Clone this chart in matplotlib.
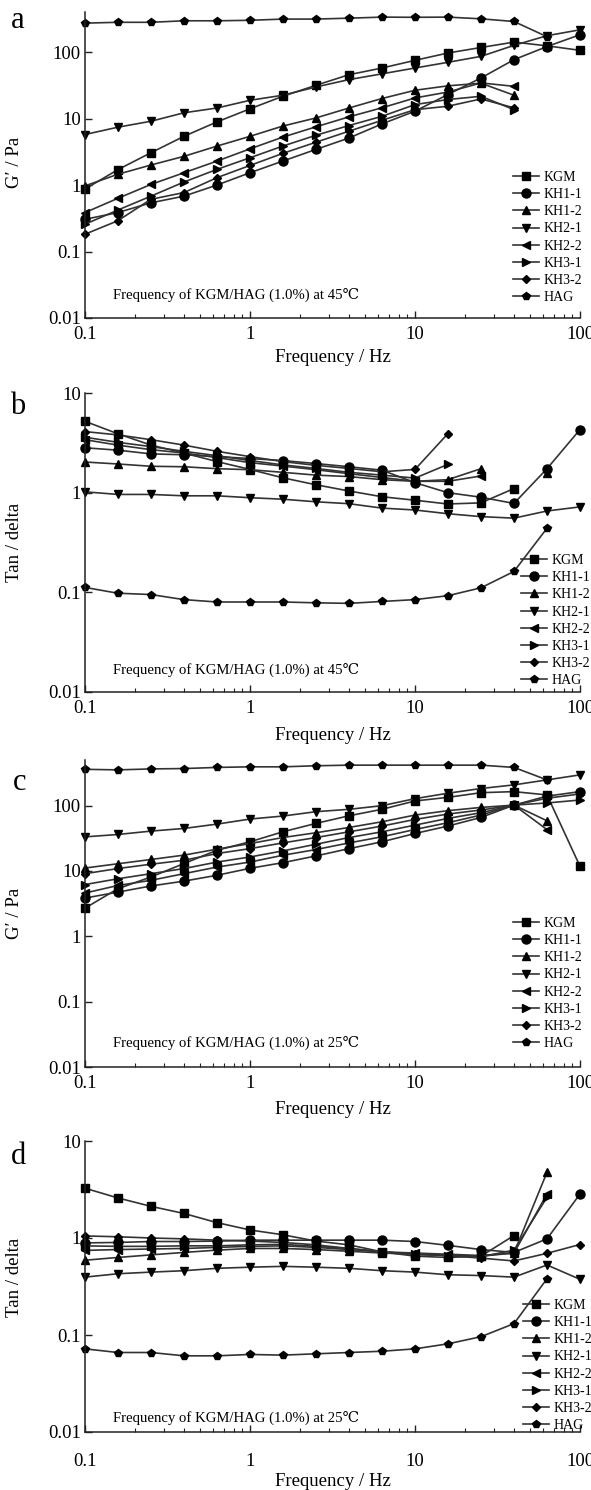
import matplotlib
matplotlib.use('Agg')
import matplotlib.pyplot as plt
import numpy as np
from matplotlib.ticker import FixedLocator, FixedFormatter, LogLocator, NullLocator, NullFormatter

plt.rcParams['font.family'] = ['Liberation Serif', 'DejaVu Serif', 'Noto Sans CJK SC']

nan = float('nan')
freq = [0.1, 0.158, 0.251, 0.398, 0.631, 1.0, 1.58, 2.51, 3.98, 6.31, 10.0, 15.8, 25.1, 39.8, 63.1, 100.0]
names = ['KGM', 'KH1-1', 'KH1-2', 'KH2-1', 'KH2-2', 'KH3-1', 'KH3-2', 'HAG']

# Panel a: G' at 45 C
a_KGM = [0.87, 1.7, 3.06, 5.4, 8.9, 14, 21.6, 31.6, 45.6, 57.5, 75, 96.6, 117, 141, 124, 106]
a_KH1_1 = [0.305, 0.385, 0.54, 0.68, 1.0, 1.53, 2.29, 3.43, 5.1, 8.3, 12.9, 22.9, 40.7, 76.7, 121, 182]
a_KH1_2 = [0.97, 1.45, 2.0, 2.7, 3.85, 5.4, 7.7, 10.2, 14.4, 20, 26.6, 31, 34, 22.4]
a_KH2_1 = [5.75, 7.4, 9.1, 12.2, 14.4, 18.8, 22.4, 29.8, 38.5, 47, 57.5, 70, 86, 126, 176, 216]
a_KH2_2 = [0.385, 0.63, 1.02, 1.53, 2.29, 3.5, 5.25, 7.5, 10.6, 14.5, 20.4, 25, 34.3, 30.5]
a_KH3_1 = [0.257, 0.42, 0.68, 1.11, 1.72, 2.57, 3.85, 5.6, 7.85, 10.8, 16.2, 19.3, 21.6, 13.6]
a_KH3_2 = [0.182, 0.29, 0.61, 0.77, 1.29, 1.97, 2.99, 4.4, 6.45, 9.4, 13.6, 15.3, 19.7, 14.5]
a_HAG = [272, 280, 280, 295, 295, 300, 313, 313, 323, 335, 333, 335, 316, 288, 170]

# Panel b: tan delta at 45 C
b_KGM = [5.2, 3.9, 3.0, 2.5, 2.05, 1.71, 1.41, 1.2, 1.04, 0.91, 0.84, 0.77, 0.79, 1.1]
b_KH1_1 = [2.82, 2.67, 2.45, 2.4, 2.3, 2.2, 2.1, 1.96, 1.82, 1.68, 1.26, 1.0, 0.9, 0.78, 1.74, 4.3]
b_KH1_2 = [2.03, 1.94, 1.84, 1.82, 1.74, 1.7, 1.6, 1.5, 1.45, 1.35, 1.3, 1.35, 1.74, nan, 1.58]
b_KH2_1 = [1.02, 0.96, 0.96, 0.93, 0.93, 0.89, 0.86, 0.81, 0.775, 0.70, 0.67, 0.615, 0.575, 0.555, 0.655, 0.72]
b_KH2_2 = [3.4, 3.0, 2.7, 2.5, 2.25, 2.0, 1.85, 1.7, 1.55, 1.42, 1.3, 1.3, 1.47]
b_KH3_1 = [3.6, 3.2, 2.9, 2.6, 2.35, 2.1, 1.9, 1.75, 1.6, 1.5, 1.4, 1.92]
b_KH3_2 = [4.1, 3.8, 3.4, 3.0, 2.6, 2.3, 2.05, 1.88, 1.75, 1.62, 1.71, 3.9]
b_HAG = [0.112, 0.098, 0.095, 0.0845, 0.080, 0.080, 0.080, 0.0785, 0.0775, 0.081, 0.0845, 0.0925, 0.111, 0.162, 0.44]

# Panel c: G' at 25 C
c_KGM = [2.7, 5.35, 8.1, 13, 20.8, 28, 39.8, 53.5, 70, 88, 118, 134, 158, 164, 146, 11.8]
c_KH1_1 = [3.85, 4.75, 5.9, 7.0, 8.6, 11, 13.4, 17, 22, 28, 37.5, 48.7, 66, 102, 140, 164]
c_KH1_2 = [11.1, 12.9, 15, 17.5, 21.6, 26.3, 32.5, 38.5, 46.4, 56.7, 71.8, 83.8, 94, 102, 58.7]
c_KH2_1 = [33.3, 36.2, 40.8, 44.8, 52.2, 62.4, 69.3, 80.9, 87.9, 100, 128, 155, 183, 208, 248, 296]
c_KH2_2 = [4.6, 6.0, 7.2, 9.1, 11.5, 13.7, 17.4, 21.3, 26.9, 33.4, 43.2, 54.8, 71.8, 102, 43]
c_KH3_1 = [6.2, 7.6, 9.1, 10.9, 13.7, 16.4, 20.3, 25.7, 32.5, 39.8, 50.4, 63.8, 78, 102, 110, 122]
c_KH3_2 = [9.1, 10.9, 12.7, 14.6, 18.5, 22, 26.9, 32.5, 39.8, 48.7, 61.6, 74.4, 85.8, 102, 130, 151]
c_HAG = [360, 353, 365, 370, 385, 393, 393, 408, 417, 417, 417, 417, 417, 385, 248]

# Panel d: tan delta at 25 C
d_KGM = [3.26, 2.59, 2.12, 1.79, 1.44, 1.21, 1.08, 0.93, 0.85, 0.72, 0.65, 0.63, 0.65, 1.06]
d_KH1_1 = [0.89, 0.9, 0.92, 0.92, 0.93, 0.95, 0.95, 0.95, 0.95, 0.95, 0.92, 0.84, 0.76, 0.71, 0.98, 2.84]
d_KH1_2 = [0.59, 0.63, 0.67, 0.71, 0.75, 0.78, 0.78, 0.76, 0.73, 0.70, 0.68, 0.66, 0.65, 0.70, 4.76]
d_KH2_1 = [0.395, 0.428, 0.445, 0.46, 0.487, 0.5, 0.51, 0.5, 0.487, 0.46, 0.445, 0.418, 0.41, 0.395, 0.527, 0.375]
d_KH2_2 = [0.745, 0.76, 0.77, 0.78, 0.8, 0.82, 0.83, 0.8, 0.76, 0.72, 0.7, 0.68, 0.66, 0.7, 2.84]
d_KH3_1 = [0.83, 0.82, 0.82, 0.83, 0.83, 0.85, 0.86, 0.82, 0.78, 0.72, 0.68, 0.66, 0.64, 0.75, 2.63]
d_KH3_2 = [1.05, 1.03, 1.0, 0.98, 0.95, 0.93, 0.9, 0.85, 0.78, 0.72, 0.68, 0.66, 0.62, 0.58, 0.695, 0.857]
d_HAG = [0.072, 0.066, 0.066, 0.061, 0.061, 0.063, 0.062, 0.064, 0.066, 0.068, 0.072, 0.081, 0.096, 0.131, 0.38]

x_ticks = [0.1, 1, 10, 100]
x_ticklabels = ['0.1', '1', '10', '100']
g_ticks = [0.01, 0.1, 1, 10, 100]
g_ticklabels = ['0.01', '0.1', '1', '10', '100']
t_ticks = [0.01, 0.1, 1, 10]
t_ticklabels = ['0.01', '0.1', '1', '10']

markers = {'KGM': 's', 'KH1-1': 'o', 'KH1-2': '^', 'KH2-1': 'v',
           'KH2-2': '<', 'KH3-1': '>', 'KH3-2': 'D', 'HAG': 'p'}
msizes = {'KGM': 5.5, 'KH1-1': 6.5, 'KH1-2': 6, 'KH2-1': 6,
          'KH2-2': 6, 'KH3-1': 6, 'KH3-2': 4.5, 'HAG': 5.5}

W, H = 591, 1490
fig = plt.figure(figsize=(W / 100, H / 100), dpi=100)

def rect(top, bottom, left=85, right=580):
    return [left / W, 1 - bottom / H, (right - left) / W, (bottom - top) / H]

panels = [
    dict(top=12, bottom=318, data=[a_KGM, a_KH1_1, a_KH1_2, a_KH2_1, a_KH2_2, a_KH3_1, a_KH3_2, a_HAG],
         ylim=(0.01, 400), yt=g_ticks, ytl=g_ticklabels, ylabel="G\u2032 / Pa", letter='a',
         letter_xy=(18, 20), note='Frequency of KGM/HAG (1.0%) at 45\u2103', note_y=295,
         leg=(513, 171), xlab_y=357, xpad=6, ylab_y=0.51),
    dict(top=393, bottom=692, data=[b_KGM, b_KH1_1, b_KH1_2, b_KH2_1, b_KH2_2, b_KH3_1, b_KH3_2, b_HAG],
         ylim=(0.01, 10), yt=t_ticks, ytl=t_ticklabels, ylabel='Tan / delta', letter='b',
         letter_xy=(18, 406), note='Frequency of KGM/HAG (1.0%) at 45\u2103', note_y=670,
         leg=(521, 554), xlab_y=735, xpad=6, ylab_y=0.5),
    dict(top=760, bottom=1067, data=[c_KGM, c_KH1_1, c_KH1_2, c_KH2_1, c_KH2_2, c_KH3_1, c_KH3_2, c_HAG],
         ylim=(0.01, 500), yt=g_ticks, ytl=g_ticklabels, ylabel="G\u2032 / Pa", letter='c',
         letter_xy=(20, 782), note='Frequency of KGM/HAG (1.0%) at 25\u2103', note_y=1043,
         leg=(513, 917), xlab_y=1109, xpad=6, ylab_y=0.5),
    dict(top=1141, bottom=1432, data=[d_KGM, d_KH1_1, d_KH1_2, d_KH2_1, d_KH2_2, d_KH3_1, d_KH3_2, d_HAG],
         ylim=(0.01, 10), yt=t_ticks, ytl=t_ticklabels, ylabel='Tan / delta', letter='d',
         letter_xy=(18, 1156), note='Frequency of KGM/HAG (1.0%) at 25\u2103', note_y=1418,
         leg=(523, 1299), xlab_y=1482, xpad=15, ylab_y=0.53),
]

for p in panels:
    ax = fig.add_axes(rect(p['top'], p['bottom']))
    for name, vals in zip(names, p['data']):
        ax.plot(freq[:len(vals)], vals, marker=markers[name], ms=msizes[name],
                color='#333333', mfc='black', mec='black', lw=1.2, clip_on=False,
                label=name)
    ax.set_xscale('log')
    ax.set_yscale('log')
    ax.set_xlim(0.1, 100)
    ax.set_ylim(*p['ylim'])
    for s in ['top', 'right']:
        ax.spines[s].set_visible(False)
    for s in ['left', 'bottom']:
        ax.spines[s].set_linewidth(1.1)
        ax.spines[s].set_color('#222222')
    ax.xaxis.set_major_locator(FixedLocator(x_ticks))
    ax.xaxis.set_major_formatter(FixedFormatter(x_ticklabels))
    ax.xaxis.set_minor_locator(LogLocator(base=10, subs=np.arange(2, 10)))
    ax.xaxis.set_minor_formatter(NullFormatter())
    ax.yaxis.set_major_locator(FixedLocator(p['yt']))
    ax.yaxis.set_major_formatter(FixedFormatter(p['ytl']))
    ax.yaxis.set_minor_locator(NullLocator())
    ax.tick_params(which='both', direction='in', labelsize=13.5, color='#222222')
    ax.tick_params(which='major', length=5, width=1.0)
    ax.tick_params(axis='y', which='major', pad=3)
    ax.tick_params(axis='x', which='major', pad=p['xpad'])
    ax.tick_params(which='minor', length=3, width=0.8)
    ax.set_ylabel(p['ylabel'], fontsize=13.5)
    ax.yaxis.set_label_coords(-0.125, p['ylab_y'])
    ax.set_xlabel('Frequency / Hz', fontsize=13.5)
    hpx = p['bottom'] - p['top']
    ax.xaxis.set_label_coords(0.5, (p['bottom'] - p['xlab_y']) / hpx)
    ax.xaxis.label.set_va('center')
    ax.text((113 - 85) / 495, (p['bottom'] - p['note_y']) / hpx, p['note'],
            transform=ax.transAxes, fontsize=10.6, va='center', ha='left')
    lx, ly = p['leg']
    ax.legend(loc='upper left', bbox_to_anchor=((lx - 85) / 495, (p['bottom'] - ly) / hpx),
              frameon=False, fontsize=10, handlelength=1.9, handletextpad=0.3,
              labelspacing=0.3, borderpad=0, borderaxespad=0, numpoints=1)
    fig.text(p['letter_xy'][0] / W, 1 - p['letter_xy'][1] / H, p['letter'],
             fontsize=22, ha='center', va='center')

fig.savefig('out.png', dpi=100)
